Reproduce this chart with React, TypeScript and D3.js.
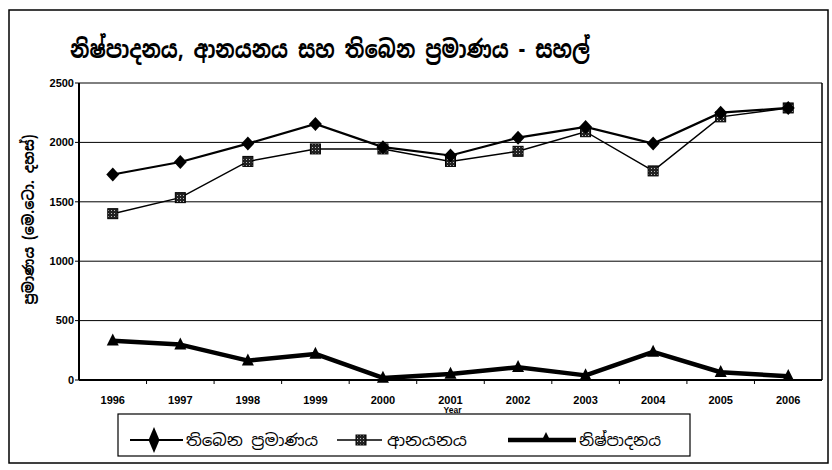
import React from "react";
import * as d3 from "d3";

const years = ["1996","1997","1998","1999","2000","2001","2002","2003","2004","2005","2006"];
const available = [1730, 1835, 1990, 2155, 1960, 1890, 2040, 2130, 1990, 2250, 2290];
const imports = [1400, 1535, 1840, 1945, 1945, 1840, 1925, 2090, 1760, 2215, 2290];
const production = [331, 298, 163, 219, 17, 51, 107, 39, 236, 65, 31];
const yTicks = [0, 500, 1000, 1500, 2000, 2500];

const title = "නිෂ්පාදනය, ආනයනය සහ තිබෙන ප්‍රමාණය - සහල්";
const yTitle = "ප්‍රමාණය (මෙ.ටො. දහස්)";
const xTitle = "Year";
const legendNames = ["තිබෙන ප්‍රමාණය", "ආනයනය", "නිෂ්පාදනය"];

const SIN = "'Noto Sans Sinhala','Noto Serif Sinhala','Iskoola Pota','Noto Sans',sans-serif";
const AR = "'Liberation Sans',Arial,sans-serif";

export default function App() {
  const W = 832, H = 470;
  const left = 79, right = 822, top = 83, bottom = 380;
  const x = d3.scaleBand<string>().domain(years).range([left, right]);
  const bw = x.bandwidth();
  const cx = (d: string) => (x(d) as number) + bw / 2;
  const y = d3.scaleLinear().domain([0, 2500]).range([bottom, top]);
  const line = d3.line<number>().x((_, i) => cx(years[i])).y((v) => y(v));

  const diamond = (px: number, py: number, w: number, h: number) =>
    `M${px},${py - h / 2}L${px + w / 2},${py}L${px},${py + h / 2}L${px - w / 2},${py}Z`;
  const tri = (px: number, py: number, s: number) =>
    `M${px},${py - s * 0.6}L${px + s / 2},${py + s * 0.4}L${px - s / 2},${py + s * 0.4}Z`;

  return (
    <div style={{ position: "absolute", left: 0, top: 0 }}>
      <svg width={W} height={H} style={{ display: "block", background: "#fff" }}>
        <defs>
          <pattern id="sq" width="3" height="3" patternUnits="userSpaceOnUse">
            <rect width="3" height="3" fill="#222" />
            <rect width="1" height="1" fill="#bbb" />
          </pattern>
        </defs>
        {/* outer frame */}
        <rect x={9} y={10} width={819} height={453} fill="none" stroke="#000" strokeWidth={1.5} />
        {/* title */}
        <text x={70} y={58} fontFamily={SIN} fontWeight="bold" fontSize={25} textLength={520} lengthAdjust="spacingAndGlyphs" fill="#000">{title}</text>
        {/* gridlines */}
        {yTicks.map((t) => (
          <line key={t} x1={left} x2={right} y1={y(t)} y2={y(t)} stroke="#000" strokeWidth={t === 0 ? 2 : 1} />
        ))}
        <line x1={left} x2={left} y1={top} y2={bottom} stroke="#000" strokeWidth={2} />
        <line x1={right} x2={right} y1={top} y2={bottom} stroke="#000" strokeWidth={1.5} />
        {/* y ticks & labels */}
        {yTicks.map((t) => (
          <g key={"yt" + t}>
            <line x1={left - 4} x2={left} y1={y(t)} y2={y(t)} stroke="#000" strokeWidth={1} />
            <text x={left - 5} y={y(t)} dy="0.35em" textAnchor="end" fontFamily={AR} fontWeight="bold" fontSize={11}>{t}</text>
          </g>
        ))}
        {/* x ticks & labels */}
        {years.map((d, i) => (
          <g key={"xt" + d}>
            {i > 0 && <line x1={x(d)} x2={x(d)} y1={bottom} y2={bottom + 4} stroke="#000" strokeWidth={1} />}
            <text x={cx(d)} y={404} textAnchor="middle" fontFamily={AR} fontWeight="bold" fontSize={11}>{d}</text>
          </g>
        ))}
        <text x={cx("2001") + 2} y={413} textAnchor="middle" fontFamily={AR} fontWeight="bold" fontSize={8.5}>{xTitle}</text>
        {/* y title */}
        <text transform={`translate(34,${(top + bottom) / 2 - 12}) rotate(-90)`} textAnchor="middle" fontFamily={SIN} fontWeight="bold" fontSize={15.5} textLength={170} lengthAdjust="spacingAndGlyphs">{yTitle}</text>
        {/* series */}
        <path d={line(production) as string} fill="none" stroke="#000" strokeWidth={4.5} strokeLinejoin="round" />
        <path d={line(imports) as string} fill="none" stroke="#000" strokeWidth={1.5} />
        <path d={line(available) as string} fill="none" stroke="#000" strokeWidth={2.2} />
        {production.map((v, i) => (
          <path key={"p" + i} d={tri(cx(years[i]), y(v), 12)} fill="#000" />
        ))}
        {imports.map((v, i) => (
          <rect key={"i" + i} x={cx(years[i]) - 5} y={y(v) - 5} width={10} height={10} fill="url(#sq)" stroke="#000" strokeWidth={1} />
        ))}
        {available.map((v, i) => (
          <path key={"a" + i} d={diamond(cx(years[i]), y(v), 13, 14)} fill="#000" />
        ))}
        {/* legend */}
        <rect x={118} y={414} width={572} height={42} fill="#fff" stroke="#000" strokeWidth={1.2} />
        <line x1={130} x2={183} y1={440} y2={440} stroke="#000" strokeWidth={2} />
        <path d={diamond(154, 440, 11, 26)} fill="#000" />
        <text x={186} y={440} dy="0.35em" fontFamily={SIN} fontSize={16} textLength={132} lengthAdjust="spacingAndGlyphs">{legendNames[0]}</text>
        <line x1={337} x2={382} y1={440} y2={440} stroke="#000" strokeWidth={1.5} />
        <rect x={356} y={435} width={10} height={10} fill="url(#sq)" stroke="#000" />
        <text x={387} y={440} dy="0.35em" fontFamily={SIN} fontSize={16} textLength={80} lengthAdjust="spacingAndGlyphs">{legendNames[1]}</text>
        <line x1={508} x2={576} y1={440} y2={440} stroke="#000" strokeWidth={4.5} />
        <path d={tri(546, 438, 10)} fill="#000" />
        <text x={579} y={440} dy="0.35em" fontFamily={SIN} fontSize={16} textLength={82} lengthAdjust="spacingAndGlyphs">{legendNames[2]}</text>
      </svg>
    </div>
  );
}
